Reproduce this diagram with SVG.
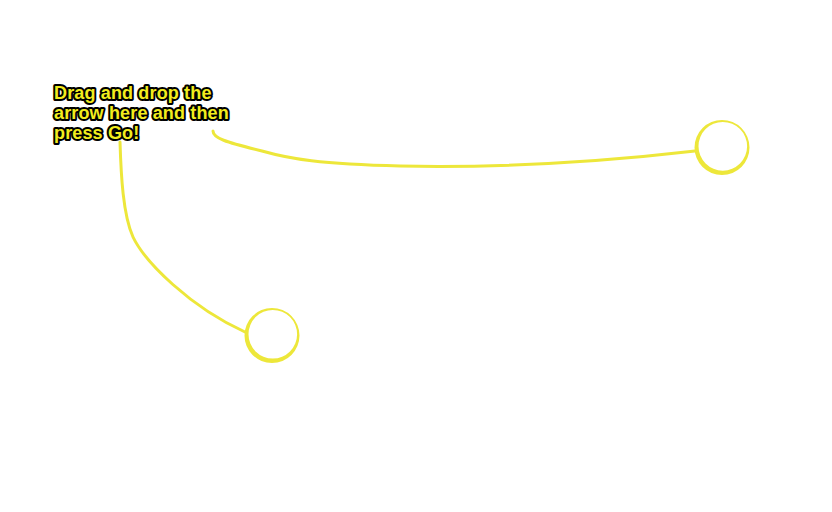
<svg xmlns="http://www.w3.org/2000/svg" width="832" height="512" viewBox="0 0 832 512">
<style>
.lbl{font-family:"Liberation Sans",Arial,sans-serif;font-weight:bold;font-size:18px;letter-spacing:0.15px;fill:#F2EC1E;stroke:#000;stroke-width:4;stroke-linejoin:round;paint-order:stroke fill}
.conn{fill:none;stroke:#EDE73A;stroke-linecap:round}
.ring{fill:#EDE73A;fill-rule:evenodd}
</style>
<rect width="832" height="512" fill="#fff"/>
<g id="label">
<text class="lbl" x="54" y="99">Drag and drop the</text>
<text class="lbl" x="54" y="119">arrow here and then</text>
<text class="lbl" x="54" y="139">press Go!</text>
</g>
<g id="connectors">
<path class="conn" stroke-width="3" d="M213,131 C213,138 225,142 262,151 C290,159 320,164 400,166 C500,168 600,162 695,151"/>
<path class="conn" stroke-width="3" d="M120,142 C121,175 123,215 133,237 C145,262 190,307 245,332"/>
</g>
<g id="node1">
<path class="ring" d="M694.5,147.5 a27.5,27.5 0 1,0 55,0 a27.5,27.5 0 1,0 -55,0 Z M698.5,146.3 a24.3,24.3 0 1,0 48.6,0 a24.3,24.3 0 1,0 -48.6,0 Z"/>
</g>
<g id="node2">
<path class="ring" d="M244.5,335.5 a27.5,27.5 0 1,0 55,0 a27.5,27.5 0 1,0 -55,0 Z M248.5,334.3 a24.3,24.3 0 1,0 48.6,0 a24.3,24.3 0 1,0 -48.6,0 Z"/>
</g>
</svg>
